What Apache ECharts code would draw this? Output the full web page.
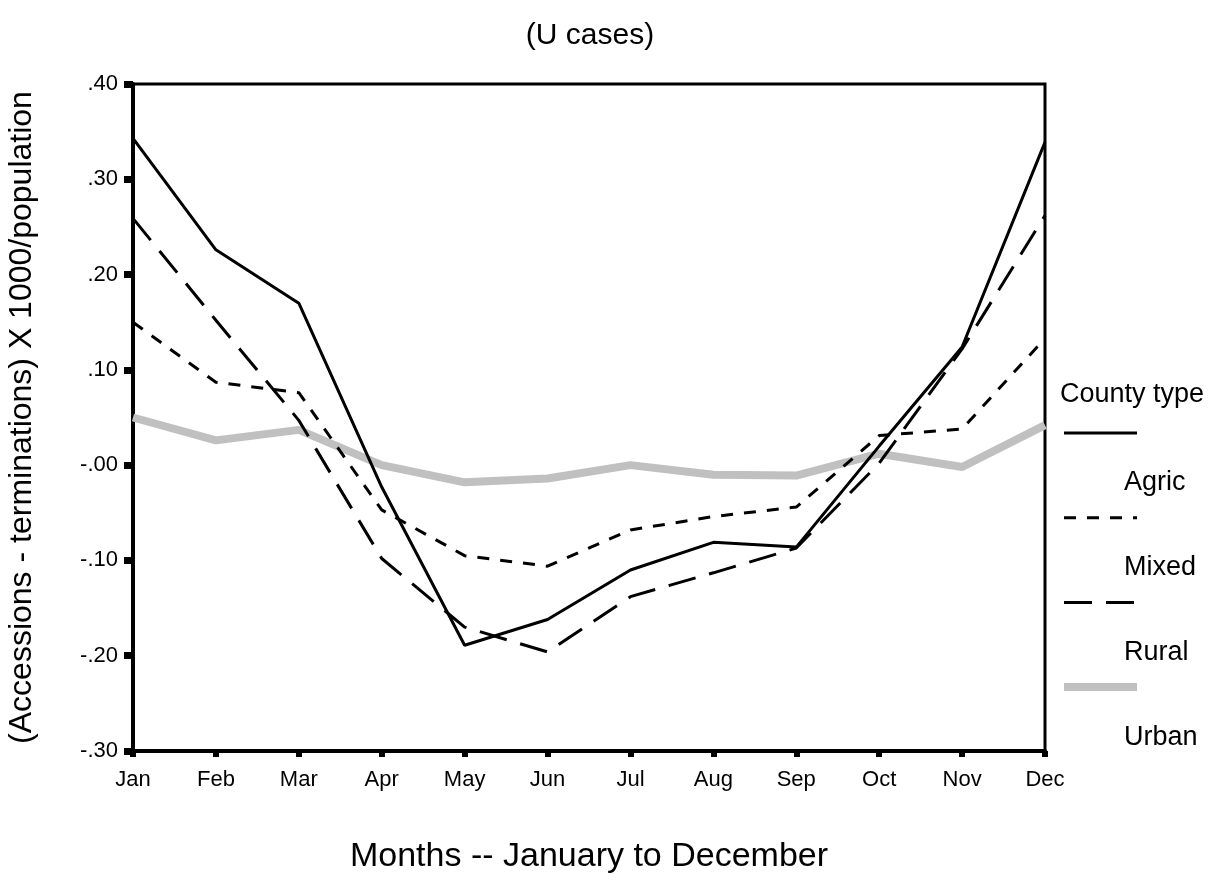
<!DOCTYPE html>
<html>
<head>
<meta charset="utf-8">
<script src="https://cdn.jsdelivr.net/npm/echarts@6/dist/echarts.min.js"></script>
<style>
  html, body {margin: 0; padding: 0; background: #fff;}
  #chart {width: 1217px; height: 890px;}
</style>
</head>
<body>
<div id="chart"></div>
<script>
const months = ['Jan', 'Feb', 'Mar', 'Apr', 'May', 'Jun', 'Jul', 'Aug', 'Sep', 'Oct', 'Nov', 'Dec'];
const yTickLabels = ['-.30', '-.20', '-.10', '-.00', '.10', '.20', '.30', '.40'];
const seriesNames = ['Agric', 'Mixed', 'Rural', 'Urban'];

const agric = [0.343, 0.226, 0.170, -0.023, -0.189, -0.162, -0.110, -0.081, -0.086, 0.020, 0.124, 0.339];
const mixed = [0.150, 0.087, 0.076, -0.047, -0.095, -0.106, -0.068, -0.054, -0.044, 0.031, 0.038, 0.133];
const rural = [0.259, 0.152, 0.047, -0.098, -0.170, -0.196, -0.138, -0.113, -0.087, 0.002, 0.122, 0.262];
const urban = [0.050, 0.026, 0.037, 0.000, -0.018, -0.014, 0.000, -0.010, -0.011, 0.012, -0.002, 0.042];

const font = 'Liberation Sans, Arial, sans-serif';

// line look per series (same order as seriesNames)
const looks = [
  {color: '#000', width: 3, type: 'solid'},
  {color: '#000', width: 3, type: [12, 11]},
  {color: '#000', width: 3, type: [28, 14]},
  {color: '#c0c0c0', width: 8, type: 'solid'},
];
const values = [agric, mixed, rural, urban];

const chart = echarts.init(document.getElementById('chart'));

// legend drawn by hand: sample line, then its label a bit below and to the right
const legendItems = [];
legendItems.push({
  type: 'text', x: 1060, y: 395,
  style: {text: 'County type', fontSize: 27, fontFamily: font, fill: '#000', verticalAlign: 'middle'}
});
seriesNames.forEach((name, i) => {
  const ly = 433 + i * 84.7;
  const lk = looks[i];
  legendItems.push({
    type: 'line',
    shape: {x1: 1064, y1: ly, x2: 1137, y2: ly},
    style: {stroke: lk.color, lineWidth: lk.width, lineDash: lk.type === 'solid' ? null : lk.type}
  });
  legendItems.push({
    type: 'text', x: 1124, y: ly + 50,
    style: {text: name, fontSize: 27, fontFamily: font, fill: '#000', verticalAlign: 'middle'}
  });
});

chart.setOption({
  animation: false,
  backgroundColor: '#fff',
  textStyle: {fontFamily: font},
  title: {
    text: '(U cases)',
    left: 585,
    top: 16,
    textAlign: 'center',
    textStyle: {fontSize: 30, fontWeight: 'normal', color: '#000', fontFamily: font}
  },
  grid: {
    left: 133, right: 172, top: 84, bottom: 139,
    outerBoundsMode: 'none',
    show: true, borderColor: '#000', borderWidth: 3
  },
  xAxis: {
    type: 'category',
    data: months,
    boundaryGap: false,
    name: 'Months -- January to December',
    nameLocation: 'middle',
    nameGap: 89,
    nameTextStyle: {fontSize: 34, color: '#000'},
    axisLine: {onZero: false, lineStyle: {color: '#000', width: 4}},
    axisTick: {length: 6, lineStyle: {color: '#000', width: 6}},
    axisLabel: {fontSize: 22, color: '#000', margin: 18},
    splitLine: {show: false}
  },
  yAxis: {
    type: 'value',
    min: -0.3,
    max: 0.4,
    interval: 0.1,
    name: '(Accessions - terminations) X 1000/population',
    nameLocation: 'middle',
    nameGap: 95,
    nameTextStyle: {fontSize: 32, color: '#000'},
    axisLine: {show: true, lineStyle: {color: '#000', width: 4}},
    axisTick: {show: true, length: 9, lineStyle: {color: '#000', width: 7}},
    axisLabel: {
      fontSize: 22, color: '#000', margin: 15,
      formatter: v => yTickLabels[Math.round(v * 10) + 3]
    },
    splitLine: {show: false}
  },
  series: seriesNames.map((name, i) => ({
    name: name,
    type: 'line',
    data: values[i],
    symbol: 'none',
    z: name === 'Urban' ? 1 : 2,
    lineStyle: {color: looks[i].color, width: looks[i].width, type: looks[i].type}
  })),
  graphic: legendItems
});
</script>
</body>
</html>
